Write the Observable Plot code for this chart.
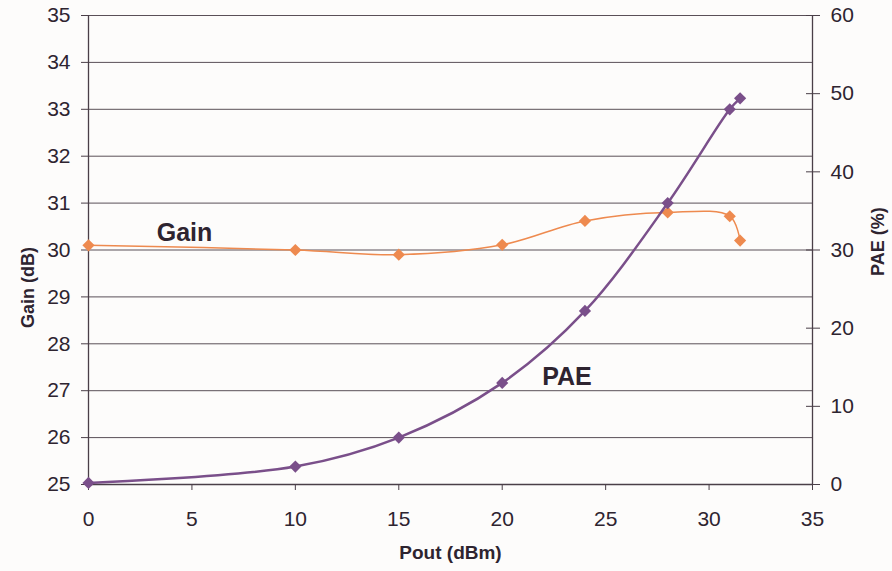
<!DOCTYPE html>
<html>
<head>
<meta charset="utf-8">
<script src="https://cdn.jsdelivr.net/npm/d3@7"></script>
<script src="https://cdn.jsdelivr.net/npm/@observablehq/plot@0.6"></script>
<style>
  html, body { margin: 0; padding: 0; background: #fdfcfb; }
  #chart { width: 892px; height: 571px; }
</style>
</head>
<body>
<div id="chart"></div>
<script>
// Pout (dBm)
const pout = [0, 10, 15, 20, 24, 28, 31, 31.5];
// Gain (dB)
const gain = [30.1, 30.0, 29.9, 30.11, 30.62, 30.8, 30.72, 30.2];
// PAE (%)
const pae = [0.2, 2.3, 6.0, 13.0, 22.2, 36.0, 48.0, 49.4];

const xTicks = [0, 5, 10, 15, 20, 25, 30, 35];
const gainTicks = [25, 26, 27, 28, 29, 30, 31, 32, 33, 34, 35];
const paeTicks = [0, 10, 20, 30, 40, 50, 60];

const gainDomain = [25, 35];
const paeDomain = [0, 60];
// map PAE onto the gain (left) scale
const paeToGain = p => gainDomain[0] + (p - paeDomain[0]) * (gainDomain[1] - gainDomain[0]) / (paeDomain[1] - paeDomain[0]);
const gainToPae = g => paeDomain[0] + (g - gainDomain[0]) * (paeDomain[1] - paeDomain[0]) / (gainDomain[1] - gainDomain[0]);

const gainData = pout.map((x, i) => ({x, y: gain[i]}));
const paeData = pout.map((x, i) => ({x, y: paeToGain(pae[i])}));

const textColor = "#2e2430";
const axisColor = "#4a3f48";
const gridColor = "#5a5058";
const orange = "#ee8a4f";
const purple = "#7a4f8a";

const chart = Plot.plot({
  width: 892,
  height: 571,
  marginLeft: 88,
  marginRight: 80,
  marginTop: 15,
  marginBottom: 87,
  style: {fontFamily: "'Liberation Sans', Arial, sans-serif", background: "#fdfcfb", color: textColor},
  x: {domain: [0, 35]},
  y: {domain: gainDomain},
  marks: [
    Plot.ruleY(gainTicks.slice(1), {stroke: gridColor, strokeWidth: 1}),
    Plot.ruleX([0, 35], {stroke: axisColor, strokeWidth: 1.3}),
    Plot.ruleY([25], {stroke: axisColor, strokeWidth: 1.3}),
    Plot.axisX({ticks: xTicks, tickSize: 6, tickPadding: 21, fontSize: 21, label: null, stroke: axisColor, color: textColor}),
    Plot.axisY({anchor: "left", ticks: gainTicks, tickSize: 7, tickPadding: 11, fontSize: 21, label: null, stroke: axisColor, color: textColor}),
    Plot.axisY({anchor: "right", ticks: paeTicks.map(paeToGain), tickFormat: d => String(Math.round(gainToPae(d))),
      tickSize: 14, dx: -7, tickPadding: 11, fontSize: 21, label: null, stroke: axisColor, color: textColor}),
    Plot.line(gainData, {x: "x", y: "y", stroke: orange, strokeWidth: 1.5, curve: "catmull-rom"}),
    Plot.dot(gainData, {x: "x", y: "y", symbol: "diamond2", r: 5.5, fill: orange, stroke: "none"}),
    Plot.line(paeData, {x: "x", y: "y", stroke: purple, strokeWidth: 2.5, curve: "catmull-rom"}),
    Plot.dot(paeData, {x: "x", y: "y", symbol: "diamond2", r: 5.5, fill: purple, stroke: "none"}),
    Plot.text(["Gain"], {x: 3.3, y: 30.37, textAnchor: "start", lineAnchor: "middle", fontSize: 25, fontWeight: "bold", fill: textColor}),
    Plot.text(["PAE"], {x: 21.93, y: 27.3, textAnchor: "start", lineAnchor: "middle", fontSize: 25, fontWeight: "bold", fill: textColor}),
    Plot.text(["Pout (dBm)"], {frameAnchor: "bottom", dy: 68, textAnchor: "middle", lineAnchor: "middle", fontSize: 19, fontWeight: "bold", fill: textColor}),
    Plot.text(["Gain (dB)"], {frameAnchor: "left", y: [29.2], dx: -60, rotate: -90, textAnchor: "middle", lineAnchor: "middle", fontSize: 18, fontWeight: "bold", fill: textColor}),
    Plot.text(["PAE (%)"], {frameAnchor: "right", y: [30.18], dx: 66, rotate: -90, textAnchor: "middle", lineAnchor: "middle", fontSize: 18, fontWeight: "bold", fill: textColor})
  ]
});
document.getElementById("chart").appendChild(chart);
</script>
</body>
</html>
